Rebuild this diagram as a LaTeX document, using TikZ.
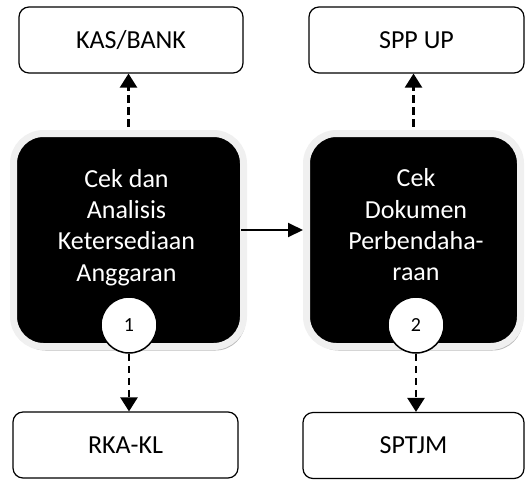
\documentclass[tikz,border=0pt]{standalone}
\usepackage{fontspec}
\setmainfont{Carlito}
\usetikzlibrary{arrows.meta,shadows}
\tikzset{
  docbox/.style={draw=black, line width=1.2pt, rounded corners=10pt, fill=white,
    minimum height=66pt, inner sep=0pt, font=\fontsize{26}{28}\selectfont},
  procbox/.style={fill=black, draw=gray!12, line width=7pt, rounded corners=30pt,
    minimum height=213pt, inner sep=0pt,
    drop shadow={shadow xshift=2pt, shadow yshift=-4pt, fill=gray!55, opacity=1}},
  proctext/.style={text=white, align=center, font=\fontsize{26}{31.3}\selectfont, inner sep=0pt},
  numcirc/.style={circle, fill=white, draw=black, line width=1.5pt, minimum size=56pt,
    inner sep=0pt, font=\fontsize{20}{22}\selectfont},
  dasharrow/.style={line width=2.4pt, dash pattern=on 7.5pt off 4.5pt, -{Triangle[length=14pt,width=17pt]}},
  solidarrow/.style={line width=2pt, -{Triangle[length=15pt,width=14pt]}}
}
\begin{document}
\begin{tikzpicture}[x=1pt,y=-1pt]
\useasboundingbox (0,0) rectangle (526,479);
% documents
\node[docbox, minimum width=224pt] (kas) at (131,40) {KAS/BANK};
\node[docbox, minimum width=215pt] (spp) at (416.5,40) {SPP UP};
\node[docbox, minimum width=225pt] (rka) at (125.5,445) {RKA-KL};
\node[docbox, minimum width=221pt] (sptjm) at (413.5,445.5) {SPTJM};
% process boxes
\node[procbox, minimum width=230pt] (p1) at (128.5,240) {};
\node[procbox, minimum width=214pt] (p2) at (413.5,240) {};
\node[proctext] (t1) at (126.5,227.5) {Cek dan\\Analisis\\Ketersediaan\\Anggaran};
\node[proctext] (t2) at (416,225) {Cek\\Dokumen\\Perbendaha-\\raan};
\node[numcirc] (c1) at (129,325) {1};
\node[numcirc] (c2) at (416,325) {2};
% connectors
\draw[dasharrow] (p1.north) ++(0,-3.5) coordinate (p1top) -- (p1top |- kas.south);
\draw[dasharrow] (p2.north) ++(0,-3.5) coordinate (p2top) -- (p2top |- spp.south);
\draw[dasharrow] (c1.south) -- (c1.south |- rka.north);
\draw[dasharrow] (c2.south) -- (c2.south |- sptjm.north);
\draw[solidarrow] (p1.east |- 0,230) ++(-6,0) coordinate (p1r) -- (p2.west |- p1r);
\end{tikzpicture}
\end{document}
